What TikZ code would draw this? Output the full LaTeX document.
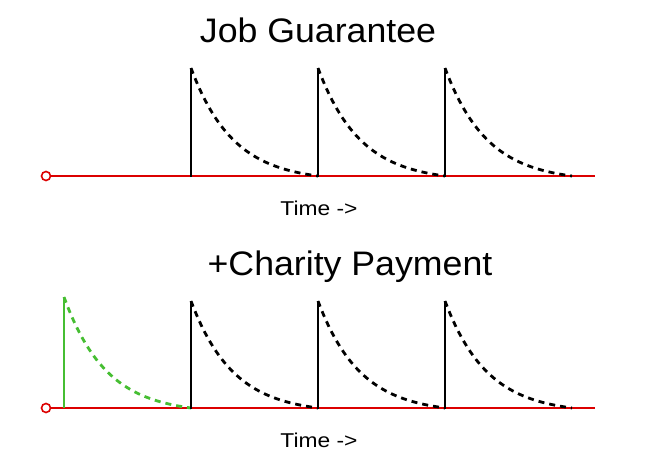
\documentclass[tikz,border=0pt]{standalone}
\usepackage{fontspec}
\setmainfont{Liberation Sans}
\definecolor{axisred}{RGB}{220,0,0}
\definecolor{paygreen}{RGB}{70,190,50}
\begin{document}
\begin{tikzpicture}[x=1pt,y=-1pt,
  axisline/.style={axisred,line width=2.4pt},
  origin/.style={circle,draw=axisred,fill=white,line width=1.6pt,inner sep=0pt,minimum size=9pt},
  spike/.style={black,line width=2.4pt},
  gspike/.style={paygreen,line width=2.4pt},
  decay/.style={black,line width=2.8pt,dash pattern=on 6pt off 5pt},
  gdecay/.style={paygreen,line width=2.8pt,dash pattern=on 6pt off 5pt},
  title/.style={font=\fontsize{34}{36}\selectfont,anchor=base,inner sep=0pt,xscale=1.05},
  tlabel/.style={font=\fontsize{20}{22}\selectfont,anchor=base,inner sep=0pt,xscale=1.14}]
\useasboundingbox (0,0) rectangle (662,474);
% top panel
\node[title] (t1) at (318,42) {Job Guarantee};
\draw[axisline] (50,176) -- (595,176);
\node[origin] (o1) at (46,176) {};
\foreach \x in {191,318,445}{
  \draw[spike] (\x,177) -- (\x,68);
  \draw[decay,domain=0:127,samples=40,smooth,variable=\t]
    plot ({\x+\t},{176-108*(exp(-3*\t/127)-exp(-3))/(1-exp(-3))});
}
\node[tlabel] (x1) at (319,215) {Time ->};
% bottom panel
\node[title] (t2) at (350,275) {+Charity Payment};
\draw[axisline] (50,408) -- (595,408);
\node[origin] (o2) at (46,408) {};
\draw[gspike] (64,408) -- (64,297);
\draw[gdecay,domain=0:127,samples=40,smooth,variable=\t]
    plot ({64+\t},{408-111*(exp(-3*\t/127)-exp(-3))/(1-exp(-3))});
\foreach \x in {191,318,445}{
  \draw[spike] (\x,409) -- (\x,301);
  \draw[decay,domain=0:127,samples=40,smooth,variable=\t]
    plot ({\x+\t},{408-107*(exp(-3*\t/127)-exp(-3))/(1-exp(-3))});
}
\node[tlabel] (x2) at (319,447) {Time ->};
\end{tikzpicture}
\end{document}
